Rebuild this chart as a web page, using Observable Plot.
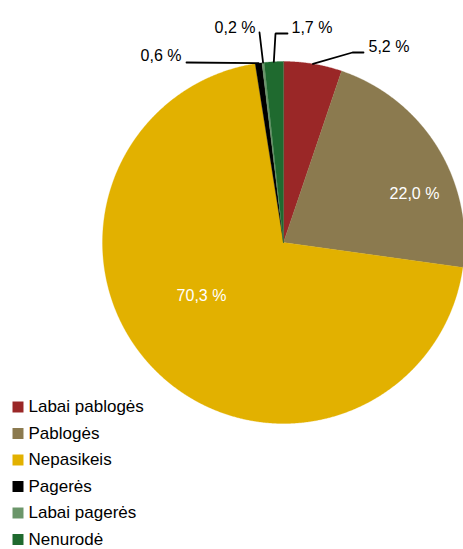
<!DOCTYPE html>
<html>
<head>
<meta charset="utf-8">
<script src="https://cdn.jsdelivr.net/npm/d3@7"></script>
<script src="https://cdn.jsdelivr.net/npm/@observablehq/plot@0.6"></script>
<style>
  html, body { margin: 0; padding: 0; background: #fff; overflow: hidden; }
  #chart { width: 463px; height: 549px; }
</style>
</head>
<body>
<div id="chart"></div>
<script>
// ---- data ----
const categories = ["Labai pablogės", "Pablogės", "Nepasikeis", "Pagerės", "Labai pagerės", "Nenurodė"];
const values = [5.2, 22.0, 70.3, 0.6, 0.2, 1.7];
const valueLabels = ["5,2 %", "22,0 %", "70,3 %", "0,6 %", "0,2 %", "1,7 %"];
const colors = ["#9a2727", "#8b7a4f", "#e2b100", "#000000", "#6b966a", "#1f6a2f"];

// ---- layout ----
const W = 463, H = 549;
const cx = 283, cy = 242, R = 181;
const font = "'Liberation Sans', Arial, sans-serif";
const ux = p => (p - cx) / R;   // pixel -> unit (x)
const uy = p => (cy - p) / R;   // pixel -> unit (y)

// label placement (pixel layout), leader elbows
const labelLayout = {
  "Labai pablogės": {x: 368, y: 46, anchor: "start", fill: "black", leader: [[352, 52], [363, 52]]},
  "Pablogės":       {x: 414, y: 193.5, anchor: "middle", fill: "white"},
  "Nepasikeis":     {x: 201, y: 295.5, anchor: "middle", fill: "white"},
  "Pagerės":        {x: 181, y: 55, anchor: "end", fill: "black", leader: [[186, 62]]},
  "Labai pagerės":  {x: 255, y: 27.5, anchor: "end", fill: "black", leader: [[259, 32]]},
  "Nenurodė":       {x: 291, y: 27.5, anchor: "start", fill: "black", leader: [[275, 33], [287, 33]]}
};

// ---- build slices from values ----
const total = d3.sum(values);
let cum = 0;
const slices = categories.map((c, i) => {
  const a0 = cum / total * 2 * Math.PI;
  cum += values[i];
  const a1 = cum / total * 2 * Math.PI;
  return {cat: c, value: values[i], label: valueLabels[i], a0, a1, mid: (a0 + a1) / 2};
});

const slicePts = [];
for (const s of slices) {
  slicePts.push({cat: s.cat, x: 0, y: 0});
  const n = Math.max(2, Math.ceil((s.a1 - s.a0) / (Math.PI / 720)));
  for (let k = 0; k <= n; k++) {
    const a = s.a0 + (s.a1 - s.a0) * k / n;
    slicePts.push({cat: s.cat, x: Math.sin(a), y: Math.cos(a)});
  }
}

const leaderPts = [];
const textData = [];
for (const s of slices) {
  const L = labelLayout[s.cat];
  if (L.leader) {
    leaderPts.push({cat: s.cat, x: Math.sin(s.mid), y: Math.cos(s.mid)});
    for (const [px, py] of L.leader) leaderPts.push({cat: s.cat, x: ux(px), y: uy(py)});
  }
  textData.push({cat: s.cat, label: s.label, x: ux(L.x), y: uy(L.y), anchor: L.anchor, fill: L.fill});
}

const legendX = 17.5, legendTextX = 28, legendY0 = 406.5, legendStep = 26.5;
const legendData = categories.map((c, i) => ({cat: c, x: ux(legendX), tx: ux(legendTextX), y: uy(legendY0 + i * legendStep)}));

const chart = Plot.plot({
  width: W,
  height: H,
  margin: 0,
  style: {background: "white", overflow: "hidden"},
  x: {domain: [-1, 1], range: [cx - R, cx + R], axis: null},
  y: {domain: [-1, 1], range: [cy + R, cy - R], axis: null},
  color: {domain: categories, range: colors},
  marks: [
    Plot.line(slicePts, {x: "x", y: "y", z: "cat", fill: "cat", stroke: "cat", strokeWidth: 0.3, curve: "linear-closed"}),
    Plot.line(leaderPts, {x: "x", y: "y", z: "cat", stroke: "black", strokeWidth: 1.8, strokeLinejoin: "miter"}),
    ...["start", "middle", "end"].map(anchor =>
      Plot.text(textData.filter(d => d.anchor === anchor), {
        x: "x", y: "y", text: "label", fill: "fill", textAnchor: anchor,
        fontSize: 16, fontFamily: font
      })),
    Plot.dot(legendData, {x: "x", y: "y", fill: "cat", symbol: "square", r: 6.2, stroke: null}),
    Plot.text(legendData, {x: "tx", y: "y", text: "cat", textAnchor: "start", fill: "black", fontSize: 17, fontFamily: font})
  ]
});
document.getElementById("chart").appendChild(chart);
</script>
</body>
</html>
